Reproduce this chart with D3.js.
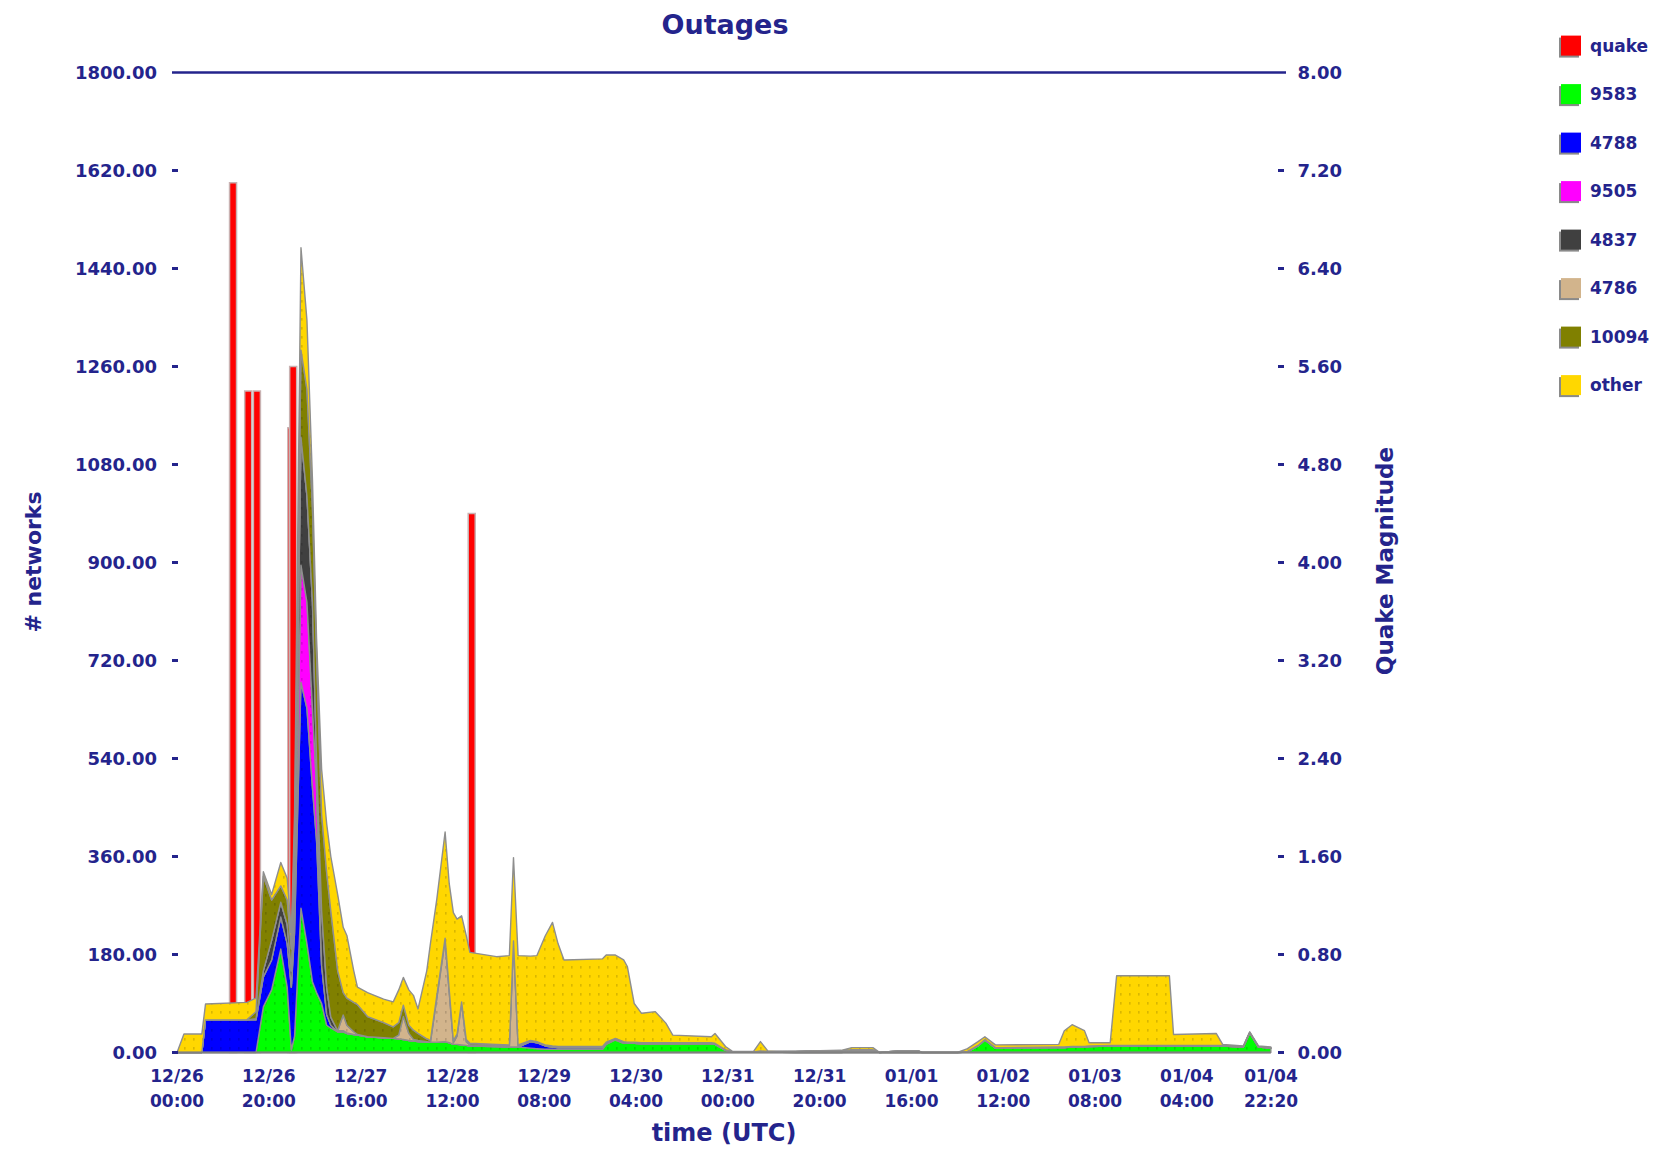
<!DOCTYPE html>
<html><head><meta charset="utf-8">
<script src="https://cdn.jsdelivr.net/npm/d3@7"></script>
<style>
html,body{margin:0;padding:0;background:#fff;}
svg{display:block;}
text{font-family:"DejaVu Sans",sans-serif;fill:#24248c;font-weight:bold;}
</style></head><body>
<svg id="chart" width="1664" height="1150"></svg>
<script>
// hours since 12/26 00:00 UTC
const hours = [0,1.5,5.4,6.2,15.2,17.2,18.8,20.6,22.6,24.0,24.9,25.6,27.0,28.3,29.5,30.4,31.5,32.6,33.5,35.0,36.2,37.0,38.5,39.3,41.5,45.0,47.1,48.3,49.3,50.5,51.5,52.5,54.4,55.2,56.6,58.4,59.3,60.2,61.0,62.0,63.0,63.8,69.6,72.4,73.3,74.3,77.0,78.4,80.2,81.8,83.0,84.3,92.7,93.5,95.5,97.3,98.1,99.6,101.2,104.2,106.5,108,116.4,117.2,119.5,121,125.6,127.1,128.7,134.8,137.8,144.7,147,151.6,153.1,157,161.5,162.3,170,172.2,174.5,176,178.3,192.1,193.3,195,197.7,198.7,203.3,204.7,216.2,217.1,226.4,227.8,232.3,233.7,235.6,238.3];
const as9583 = [0,0,0,0,0,0,84,115,190,120,5,30,265,200,130,110,90,50,45,38,38,35,33,32,29,27,26,25,24,22,21,20,19,19,19,20,18,15,15,14,13,12,11,10,10,10,8,7,6,6,6,6,6,15,23,17,17,17,16,16,16,16,16,15,4,1,1,2,1,0,0,0,0,0,0,0,0,0,0,1,12,23,8,9,9,10,10,11,12,12,12,12,12,12,10,36,10,8];
const as4788 = [0,0,0,60,60,60,55,55,59,80,115,190,415,432,356,278,70,20,5,0,0,0,0,0,0,0,0,0,0,0,0,0,0,0,0,0,0,0,0,0,0,0,0,0,0,0,12,11,6,4,3,3,3,2,1,1,0,0,0,0,0,0,0,0,0,0,0,0,0,0,0,0,2,2,0,0,0,0,0,0,0,0,0,0,0,0,0,0,0,0,0,0,0,0,0,0,0,0];
const as9505 = [0,0,0,0,0,0,0,0,0,0,0,20,215,195,146,98,0,0,0,0,0,0,0,0,0,0,0,0,0,0,0,0,0,0,0,0,0,0,0,0,0,0,0,0,0,0,0,0,0,0,0,0,0,0,0,0,0,0,0,0,0,0,0,0,0,0,0,0,0,0,0,0,0,0,0,0,0,0,0,0,0,0,0,0,0,0,0,0,0,0,0,0,0,0,0,0,0,0];
const as4837 = [0,0,0,0,0,2,11,36,27,35,30,80,235,195,195,48,100,50,15,2,2,1,0,0,0,0,0,0,0,0,0,0,0,0,0,0,0,0,0,0,0,0,0,0,0,0,0,0,0,0,0,0,0,0,0,0,0,0,0,0,0,0,0,0,0,0,0,0,0,2,3,3,2,2,0,3,3,0,0,0,0,0,0,0,0,0,0,0,0,0,0,0,0,0,0,0,0,0];
const as4786 = [0,0,0,0,0,0,0,0,0,0,0,0,0,0,0,0,0,0,0,0,29,14,5,1,0,0,0,7,42,13,3,2,1,0,81,186,92,3,15,76,7,2,2,2,190,2,1,1,1,1,1,1,1,1,1,1,1,1,1,1,1,1,1,1,1,0,0,0,0,0,0,0,0,0,0,0,0,0,0,0,0,0,0,0,0,0,0,0,0,0,0,0,0,0,0,0,0,0];
const as10094 = [0,0,0,0,0,13,174,74,30,45,40,80,160,196,173,195,177,210,195,110,41,50,54,55,37,28,21,23,21,15,17,13,5,3,5,4,5,4,4,3,4,3,2,2,5,2,1,1,1,1,1,1,1,1,1,1,1,1,1,1,1,1,1,1,0,0,0,1,1,0,0,0,1,1,0,0,0,0,0,1,1,1,1,1,1,1,1,1,1,1,1,1,1,1,1,1,1,1];
const other = [0,34,34,29,32,25,8,10,43,40,30,40,188,127,53,31,83,90,100,140,120,115,58,32,44,43,46,60,51,65,64,45,125,178,177,195,195,235,211,158,191,167,161,164,153,164,155,158,200,227,189,159,161,160,153,150,139,71,54,57,36,14,11,18,6,1,1,17,1,0,0,1,4,4,0,0,0,0,0,5,7,5,5,5,30,40,29,6,5,128,128,20,22,2,1,1,1,1];

// earthquakes (magnitude on right axis)
const quakeHours = [12.2,15.5,17.4,24.9,25.3,64.2];
const quakeMag = [7.1,5.4,5.4,5.1,5.6,4.4];

const seriesNames = ["9583","4788","9505","4837","4786","10094","other"];
const legendNames = ["quake","9583","4788","9505","4837","4786","10094","other"];
const legendColors = ["#ff0000","#00ff00","#0000ff","#ff00ff","#404040","#d2b48c","#808000","#ffd700"];

const leftTicks = [0,180,360,540,720,900,1080,1260,1440,1620,1800];
const rightTicks = [0,0.8,1.6,2.4,3.2,4.0,4.8,5.6,6.4,7.2,8.0];
const xTickHours = [0,20,40,60,80,100,120,140,160,180,200,220,238.33];
const xTickDates = ["12/26","12/26","12/27","12/28","12/29","12/30","12/31","12/31","01/01","01/02","01/03","01/04","01/04"];
const xTickTimes = ["00:00","20:00","16:00","12:00","08:00","04:00","00:00","20:00","16:00","12:00","08:00","04:00","22:20"];

const svg = d3.select("#chart");
const x = d3.scaleLinear().domain([-1.1, 241.6]).range([172, 1286]);
const yL = d3.scaleLinear().domain([0, 1800]).range([1052.5, 72.5]);
const yR = d3.scaleLinear().domain([0, 8]).range([1052.5, 72.5]);
const navy = "#24248c";

// patterns
const defs = svg.append("defs");
legendColors.forEach((c, i) => {
  const p = defs.append("pattern").attr("id", "pat" + i)
    .attr("patternUnits", "userSpaceOnUse").attr("width", 9).attr("height", 9);
  p.append("rect").attr("width", 9).attr("height", 9).attr("fill", c);
  p.append("rect").attr("x", 4).attr("y", 3).attr("width", 1.6).attr("height", 2.6)
    .attr("fill", d3.color(c).darker(0.9).formatHex()).attr("opacity", 0.55);
});

// quake bars (behind areas)
const qd = quakeHours.map((h, i) => ({h, m: quakeMag[i]}));
svg.append("g").selectAll("rect").data(qd).join("rect")
  .attr("x", d => x(d.h) - 3.5).attr("width", 7)
  .attr("y", d => yR(d.m)).attr("height", d => yR(0) - yR(d.m))
  .attr("fill", "#ff0000").attr("stroke", "#c9b2b2").attr("stroke-width", 1.5);

// stacked areas
const rows = hours.map((h, i) => {
  const r = {h};
  r["9583"] = as9583[i]; r["4788"] = as4788[i]; r["9505"] = as9505[i];
  r["4837"] = as4837[i]; r["4786"] = as4786[i]; r["10094"] = as10094[i]; r["other"] = other[i];
  return r;
});
const stack = d3.stack().keys(seriesNames)(rows);
const area = d3.area().x(d => x(d.data.h)).y0(d => yL(d[0])).y1(d => yL(d[1]));
svg.append("g").selectAll("path").data(stack).join("path")
  .attr("d", area)
  .attr("fill", (d, i) => "url(#pat" + (i + 1) + ")")
  .attr("stroke", "#8e8e8e").attr("stroke-width", 1.4).attr("stroke-linejoin", "round");

// baseline
svg.append("line").attr("x1", x(0)).attr("x2", x(hours[hours.length - 1]))
  .attr("y1", yL(0)).attr("y2", yL(0)).attr("stroke", "#808080").attr("stroke-width", 2);

// top line
svg.append("line").attr("x1", x.range()[0]).attr("x2", x.range()[1])
  .attr("y1", yL(1800)).attr("y2", yL(1800)).attr("stroke", navy).attr("stroke-width", 2.5);

// left axis
const gl = svg.append("g");
gl.selectAll("rect").data(leftTicks.slice(0, -1)).join("rect")
  .attr("x", 172).attr("width", 6).attr("y", d => yL(d) - 1.5).attr("height", 3).attr("fill", navy);
gl.selectAll("text").data(leftTicks).join("text")
  .attr("x", 157).attr("y", d => yL(d) + 6.5).attr("text-anchor", "end")
  .attr("font-size", 18).text(d => d3.format(".2f")(d));

// right axis
const gr = svg.append("g");
gr.selectAll("rect").data(rightTicks.slice(0, -1)).join("rect")
  .attr("x", 1278).attr("width", 6).attr("y", d => yR(d) - 1.5).attr("height", 3).attr("fill", navy);
gr.selectAll("text").data(rightTicks).join("text")
  .attr("x", 1342).attr("y", d => yR(d) + 6.5).attr("text-anchor", "end")
  .attr("font-size", 18).text(d => d3.format(".2f")(d));

// x ticks
const gx = svg.append("g");
xTickHours.forEach((h, i) => {
  gx.append("text").attr("x", x(h)).attr("y", 1082).attr("text-anchor", "middle")
    .attr("font-size", 17).text(xTickDates[i]);
  gx.append("text").attr("x", x(h)).attr("y", 1107).attr("text-anchor", "middle")
    .attr("font-size", 17).text(xTickTimes[i]);
});

// titles
svg.append("text").attr("x", 725).attr("y", 34).attr("text-anchor", "middle")
  .attr("font-size", 27).text("Outages");
svg.append("text").attr("transform", "translate(41,562) rotate(-90)").attr("text-anchor", "middle")
  .attr("font-size", 22).text("# networks");
svg.append("text").attr("transform", "translate(1393,561) rotate(-90)").attr("text-anchor", "middle")
  .attr("font-size", 23).text("Quake Magnitude");
svg.append("text").attr("x", 724).attr("y", 1141).attr("text-anchor", "middle")
  .attr("font-size", 24).text("time (UTC)");

// legend
const lg = svg.append("g");
legendNames.forEach((n, i) => {
  const cy = 45.6 + i * 48.5;
  lg.append("rect").attr("x", 1559).attr("y", cy - 8).attr("width", 20).attr("height", 20).attr("fill", "#8a8a8a");
  lg.append("rect").attr("x", 1561).attr("y", cy - 10).attr("width", 20).attr("height", 20).attr("fill", legendColors[i]);
  lg.append("text").attr("x", 1590).attr("y", cy + 6).attr("font-size", 17).text(n);
});
</script>
</body></html>
